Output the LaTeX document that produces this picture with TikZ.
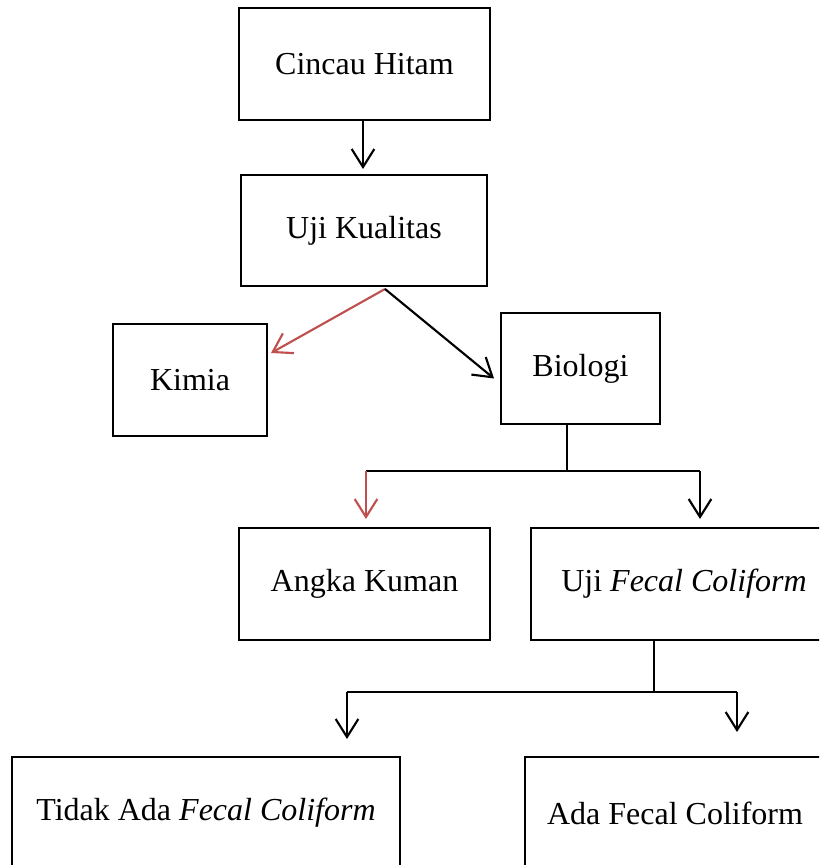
\documentclass[tikz,border=0pt]{standalone}
\usepackage{fontspec}
\setmainfont{Liberation Serif}
\usetikzlibrary{arrows.meta, calc}
\definecolor{arrowred}{RGB}{192,80,77}

\begin{document}
\begin{tikzpicture}[x=0.75pt, y=-0.75pt,
    font=\fontsize{24}{28}\selectfont,
    box/.style={draw, line width=1.5pt, rectangle, inner sep=0pt},
    conn/.style={line width=1.6pt, arrows={-Straight Barb[length=13.5pt, width=17pt]}},
    redconn/.style={conn, draw=arrowred},
    branch/.style={line width=1.2pt}]
    \useasboundingbox (0,0) rectangle (819,865);
    \clip (0,0) rectangle (819,865);

    \node [box, minimum width=251*0.75pt, minimum height=112*0.75pt] (cincau) at (364.5, 64) {Cincau Hitam};
    \node [box, minimum width=246*0.75pt, minimum height=111*0.75pt] (uji) at (364, 230.5) {Uji Kualitas};
    \node [box, minimum width=154*0.75pt, minimum height=112*0.75pt] (kimia) at (190, 380) {Kimia};
    \node [box, minimum width=159*0.75pt, minimum height=111*0.75pt] (biologi) at (580.5, 368.5) {Biologi};
    \node [box, minimum width=251*0.75pt, minimum height=112*0.75pt] (angka) at (364.5, 584) {Angka Kuman};
    \node [box, minimum width=306*0.75pt, minimum height=112*0.75pt] (ujifc) at (684, 584) {Uji \textit{Fecal Coliform}};
    \node [box, minimum width=388*0.75pt, minimum height=112*0.75pt] (tidak) at (206, 813) {Tidak Ada \textit{Fecal Coliform}};
    \node [box, minimum width=300*0.75pt, minimum height=112*0.75pt] (ada) at (675, 813) {Ada Fecal Coliform};

    % split points
    \coordinate (ujiout) at ($(uji.south)+(21,2)$);
    \coordinate (bsplit) at (567, 471);
    \coordinate (bl) at (366, 471);
    \coordinate (br) at (700, 471);
    \coordinate (fsplit) at (654, 692);
    \coordinate (fl) at (347, 692);
    \coordinate (fr) at (737, 692);

    \draw [conn, shorten >=3.75pt] (cincau.south -| 363,0) -- (uji.north -| 363,0);
    \draw [redconn] (ujiout) -- ($(kimia.north east)+(3,30)$);
    \draw [conn] (ujiout) -- ($(biologi.west)+(-6,10)$);

    \draw [branch] (biologi.south -| bsplit) -- (bsplit);
    \draw [branch] (bl) -- (br);
    \draw [redconn, shorten >=6pt] (bl) -- (angka.north -| bl);
    \draw [conn, shorten >=6pt] (br) -- (ujifc.north -| br);

    \draw [branch] (ujifc.south -| fsplit) -- (fsplit);
    \draw [branch] (fl) -- (fr);
    \draw [conn, shorten >=12.75pt] (fl) -- (tidak.north -| fl);
    \draw [conn, shorten >=18pt] (fr) -- (ada.north -| fr);
\end{tikzpicture}
\end{document}
